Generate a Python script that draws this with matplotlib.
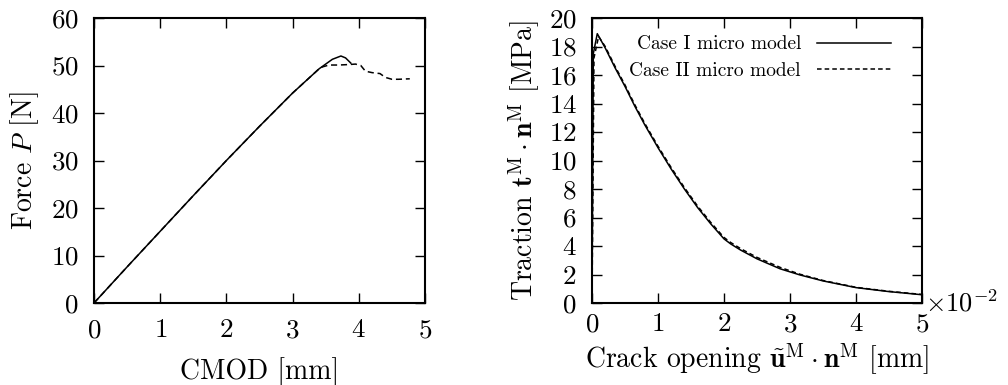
import matplotlib
matplotlib.use("Agg")
import matplotlib.pyplot as plt

plt.rcParams['font.family'] = 'serif'
plt.rcParams['font.serif'] = ['cmr10']
plt.rcParams['mathtext.fontset'] = 'cm'
plt.rcParams['axes.formatter.use_mathtext'] = True

# Courbe force / CMOD
cmod_1 = [0, 0.5, 1.0, 1.5, 2.0, 2.5, 3.0, 3.4, 3.6, 3.73, 3.8, 3.88]
force_1 = [0, 7.6, 15.1, 22.6, 30.0, 37.2, 44.2, 49.3, 51.3, 52.0, 51.6, 50.5]
cmod_2 = [0, 0.5, 1.0, 1.5, 2.0, 2.5, 3.0, 3.4, 3.45, 3.55, 3.7, 3.85, 3.95, 4.03,
          4.1, 4.2, 4.32, 4.4, 4.5, 4.6, 4.77]
force_2 = [0, 7.6, 15.1, 22.6, 30.0, 37.2, 44.2, 49.3, 49.7, 50.1, 50.1, 50.2, 50.3, 50.0,
           48.8, 48.5, 48.3, 47.5, 47.1, 47.1, 47.2]

# Courbe traction / ouverture (x10^-2 mm)
open_1 = [0, 0.02, 0.08, 0.2, 0.35, 0.5, 0.65, 0.8, 1.0, 1.2, 1.4, 1.6, 1.8, 2.0, 2.1,
          2.25, 2.5, 2.85, 3.15, 3.5, 4.0, 4.5, 5.0]
trac_1 = [0, 17.5, 18.9, 17.9, 16.5, 15.2, 13.8, 12.5, 10.9, 9.4, 8.0, 6.7, 5.55, 4.5, 4.15,
          3.72, 3.1, 2.4, 1.97, 1.55, 1.08, 0.8, 0.58]
open_2 = [0, 0.03, 0.1, 0.2, 0.35, 0.5, 0.65, 0.8, 1.0, 1.2, 1.4, 1.6, 1.8, 2.0, 2.1,
          2.25, 2.5, 2.85, 3.15, 3.5, 4.0, 4.5, 5.0]
trac_2 = [0, 17.2, 18.7, 18.0, 16.6, 15.3, 13.9, 12.6, 11.0, 9.5, 8.1, 6.8, 5.65, 4.6, 4.25,
          3.82, 3.2, 2.5, 2.02, 1.58, 1.1, 0.82, 0.6]

fig = plt.figure(figsize=(10.08, 3.85), dpi=100)
ax1 = fig.add_axes([94/1008, 1-303/385, 331/1008, 285/385])
ax2 = fig.add_axes([592/1008, 1-303/385, 330/1008, 285/385])

ax1.plot(cmod_1, force_1, color='black', lw=1.1)
ax1.plot(cmod_2, force_2, color='black', lw=1.1, ls=(0, (4, 2.5)))
ax1.set_xlim(0, 5)
ax1.set_ylim(0, 60)
ax1.set_xticks(range(0, 6))
ax1.set_yticks(range(0, 61, 10))

ax2.plot(open_1, trac_1, color='black', lw=1.1, label='Case I micro model')
ax2.plot(open_2, trac_2, color='black', lw=1.1, ls=(0, (3, 2)), label='Case II micro model')
ax2.set_xlim(0, 5)
ax2.set_ylim(0, 20)
ax2.set_xticks(range(0, 6))
ax2.set_yticks(range(0, 21, 2))
ax2.text(1.01, 0.0, r'$\times10^{-2}$', transform=ax2.transAxes, fontsize=19,
         ha='left', va='center')
ax2.legend(loc='upper right', bbox_to_anchor=(0.96, 1.0), frameon=False, markerfirst=False,
           fontsize=14, handlelength=3.8, handletextpad=0.85, labelspacing=0.45)

for ax in (ax1, ax2):
    ax.tick_params(direction='in', top=True, right=True, length=7, width=1.0,
                   labelsize=19.5, pad=11)
    for sp in ax.spines.values():
        sp.set_linewidth(1.5)
ax2.tick_params(axis='x', pad=7)

ax1.set_xlabel('CMOD [mm]', fontsize=20, labelpad=11)
ax1.set_ylabel('Force $P$ [N]', fontsize=20, labelpad=7)
ax2.set_xlabel(r'Crack opening $\tilde{\mathbf{u}}^{\mathrm{M}}\cdot\mathbf{n}^{\mathrm{M}}$ [mm]',
               fontsize=20, labelpad=4)
ax2.set_ylabel(r'Traction $\mathbf{t}^{\mathrm{M}}\cdot\mathbf{n}^{\mathrm{M}}$ [MPa]',
               fontsize=20, labelpad=5)

fig.savefig('out.png', dpi=100)
